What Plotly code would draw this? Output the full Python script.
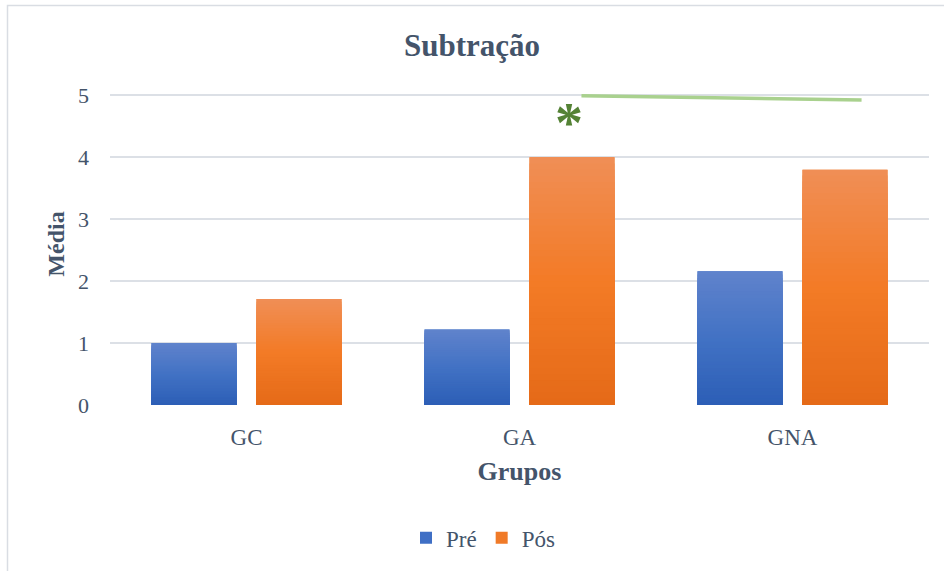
import plotly.graph_objects as go

# Chart data
groups = ["GC", "GA", "GNA"]
pre = [1.0, 1.22, 2.16]
pos = [1.71, 4.0, 3.80]
series_names = ["Pré", "Pós"]

# Significance bracket between GA and GNA (category units / value units)
sig_x = [1.227, 2.253]
sig_y = [4.995, 4.927]
star_pos = (1.18, 4.56)

FONT = "Liberation Serif"
TEXT = "#44546A"
GRID = "#DCE0E6"

# Figure geometry (px)
W, H = 944, 571
ML, MR, MB = 110, 15, 166
Y_MAX = 5.2
PLOT_H = 62 * Y_MAX
MT = H - MB - PLOT_H

# gradient stops: top, middle, bottom
blue_stops = [(96, 131, 204), (66, 114, 196), (44, 94, 182)]
orange_stops = [(240, 142, 86), (243, 123, 38), (229, 106, 24)]


def grad(stops, t):
    """t=0 at top, t=1 at bottom."""
    if t <= 0.5:
        a, b, u = stops[0], stops[1], t / 0.5
    else:
        a, b, u = stops[1], stops[2], (t - 0.5) / 0.5
    return "rgb({},{},{})".format(*[round(a[i] + (b[i] - a[i]) * u) for i in range(3)])


BAR_W = 85 / 273
offsets = [-95 / 273, 10 / 273]
legend_colors = ["#3F6FC5", "#F07A28"]
stops_list = [blue_stops, orange_stops]

fig = go.Figure()
N = 40
for vals, name, off, stops, lc in zip([pre, pos], series_names, offsets, stops_list, legend_colors):
    # base bar carrying the legend entry
    fig.add_trace(go.Bar(x=groups, y=vals, name=name, width=BAR_W, offset=off,
                         marker=dict(color=lc, line=dict(width=0)), showlegend=True))
    # overlapping shorter bars to build a vertical gradient
    for k in range(N):
        frac = (N - k) / N
        fig.add_trace(go.Bar(x=groups, y=[v * frac for v in vals], width=BAR_W, offset=off,
                             marker=dict(color=grad(stops, (k + 0.5) / N), line=dict(width=0)),
                             showlegend=False, hoverinfo="skip"))

# significance line and asterisk
fig.add_shape(type="line", xref="x", yref="y", x0=sig_x[0], y0=sig_y[0], x1=sig_x[1], y1=sig_y[1],
              line=dict(color="#A9D18E", width=3.5))
fig.add_annotation(x=star_pos[0], y=star_pos[1], xref="x", yref="y", text="<b>*</b>", showarrow=False,
                   font=dict(family=FONT, size=56, color="#548235"), yanchor="middle")

# outer chart frame
px_x = lambda p: (p - ML) / (W - ML - MR)
px_y = lambda p: (H - MB - p) / PLOT_H
fig.add_shape(type="rect", xref="paper", yref="paper", x0=px_x(7.5), x1=px_x(960), y0=px_y(590), y1=px_y(5),
              line=dict(color="#D9DDE3", width=1.5), fillcolor="rgba(0,0,0,0)", layer="below")

fig.update_layout(
    width=W, height=H,
    barmode="overlay",
    plot_bgcolor="white", paper_bgcolor="white",
    margin=dict(l=ML, r=MR, t=MT, b=MB),
    font=dict(family=FONT, color=TEXT, size=22),
    title=dict(text="<b>Subtração</b>", x=0.5, xanchor="center", y=1 - 45 / H, yanchor="middle",
               font=dict(family=FONT, size=31, color=TEXT)),
    legend=dict(orientation="h", x=px_x(406), xanchor="left", y=px_y(538), yanchor="middle",
                font=dict(family=FONT, size=23, color=TEXT), traceorder="normal"),
    showlegend=True,
)
fig.update_xaxes(type="category", range=[-0.5, 2.5], showgrid=False, zeroline=False, showline=False,
                 ticks="", ticklabelstandoff=16, tickfont=dict(size=23),
                 title=dict(text="<b>Grupos</b>", font=dict(size=26), standoff=12))
fig.update_yaxes(range=[0, Y_MAX], tickvals=[0, 1, 2, 3, 4, 5], showgrid=True, gridcolor=GRID, gridwidth=2,
                 zeroline=False, showline=False, ticks="", ticklabelstandoff=20, tickfont=dict(size=22),
                 title=dict(text="<b>Média</b>", font=dict(size=24), standoff=6))

fig.write_html("out.html")
